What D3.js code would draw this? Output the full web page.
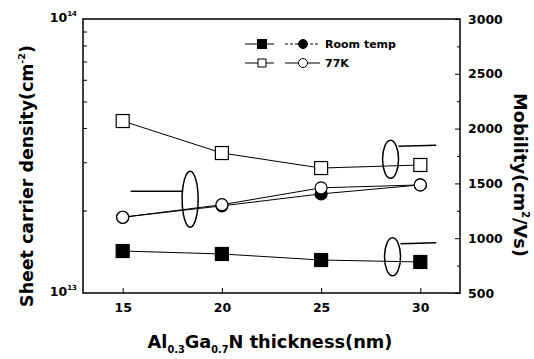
<!DOCTYPE html>
<html><head><meta charset="utf-8">
<script src="https://cdn.jsdelivr.net/npm/d3@7"></script>
<style>body{margin:0;background:#fff}svg{display:block}text{font-family:"DejaVu Sans",Arial,sans-serif;font-weight:bold;fill:#000}</style>
</head><body>
<script>
const thickness = [15, 20, 25, 30];
const mobilityRT = [883, 856, 801, 783];
const mobility77K = [2069, 1777, 1640, 1668];
const densityRT = [1.89e13, 2.08e13, 2.30e13, 2.48e13];
const density77K = [1.89e13, 2.10e13, 2.42e13, 2.48e13];
const xTicks = [15, 20, 25, 30];
const mobilityTicks = [500, 1000, 1500, 2000, 2500, 3000];
const legendLabels = ["Room temp", "77K"];

const W = 534, H = 359;
const m = {l: 83, r: 74, t: 19, b: 66};
const FF = "'DejaVu Sans', Arial, sans-serif";
const svg = d3.select("body").append("svg").attr("width", W).attr("height", H);
const x = d3.scaleLinear().domain([13, 32]).range([m.l, W - m.r]);
const yL = d3.scaleLog().domain([1e13, 1e14]).range([H - m.b, m.t]);
const yR = d3.scaleLinear().domain([500, 3000]).range([H - m.b, m.t]);

// frame
svg.append("rect").attr("x", m.l).attr("y", m.t).attr("width", W - m.r - m.l).attr("height", H - m.b - m.t)
  .attr("fill", "none").attr("stroke", "#000").attr("stroke-width", 1.5);

// bottom axis
const gx = svg.append("g").attr("transform", `translate(0,${H - m.b})`)
  .call(d3.axisBottom(x).tickValues(xTicks).tickSize(-5).tickPadding(10).tickFormat(d3.format("d")));
gx.select(".domain").remove();
gx.selectAll("text").attr("font-size", 12.5).style("font-family", FF).style("font-weight", "bold");

// left axis: minor ticks inward
const minor = [];
for (let k = 2; k <= 9; k++) minor.push(k * 1e13);
const gl = svg.append("g").attr("transform", `translate(${m.l},0)`)
  .call(d3.axisLeft(yL).tickValues(minor).tickSize(-4).tickFormat(""));
gl.select(".domain").remove();
const leftLabels = [[1e14, "14"], [1e13, "13"]];
leftLabels.forEach(([v, e]) => {
  const t = svg.append("text").attr("x", m.l - 6).attr("y", yL(v) + 3).attr("text-anchor", "end").attr("font-size", 12.5);
  t.append("tspan").text("10");
  t.append("tspan").attr("font-size", 7).attr("dy", -6).text(e);
});

// right axis
const gr = svg.append("g").attr("transform", `translate(${W - m.r},0)`)
  .call(d3.axisRight(yR).tickValues(mobilityTicks).tickSize(-5).tickPadding(8).tickFormat(d3.format("d")));
gr.select(".domain").remove();
gr.selectAll("text").attr("font-size", 12.5).style("font-family", FF).style("font-weight", "bold");
svg.append("g").attr("transform", `translate(${W - m.r},0)`)
  .call(d3.axisRight(yR).tickValues([750, 1250, 1750, 2250, 2750]).tickSize(-3).tickFormat(""))
  .select(".domain").remove();

// lines
const lineR = d3.line().x((d, i) => x(thickness[i])).y(d => yR(d));
const lineL = d3.line().x((d, i) => x(thickness[i])).y(d => yL(d));
[lineR(mobility77K), lineR(mobilityRT), lineL(densityRT), lineL(density77K)].forEach(p =>
  svg.append("path").attr("d", p).attr("fill", "none").attr("stroke", "#000").attr("stroke-width", 1));

const sq = 13, cr = 6;
function square(g, cx, cy, filled) {
  g.append("rect").attr("x", cx - sq / 2).attr("y", cy - sq / 2).attr("width", sq).attr("height", sq)
    .attr("fill", filled ? "#000" : "#fff").attr("stroke", "#000").attr("stroke-width", 1.2);
}
function circle(g, cx, cy, filled) {
  g.append("circle").attr("cx", cx).attr("cy", cy).attr("r", cr)
    .attr("fill", filled ? "#000" : "#fff").attr("stroke", "#000").attr("stroke-width", 1.2);
}
const pts = svg.append("g");
densityRT.forEach((d, i) => circle(pts, x(thickness[i]), yL(d), true));
density77K.forEach((d, i) => circle(pts, x(thickness[i]), yL(d), false));
mobilityRT.forEach((d, i) => square(pts, x(thickness[i]), yR(d), true));
mobility77K.forEach((d, i) => square(pts, x(thickness[i]), yR(d), false));

// ellipses with pointers
const ann = svg.append("g").attr("fill", "none").attr("stroke", "#000").attr("stroke-width", 1.5);
ann.append("ellipse").attr("cx", x(18.4)).attr("cy", yL(2.2e13)).attr("rx", 8).attr("ry", 28);
ann.append("line").attr("x1", x(18.4) - 8).attr("y1", yL(2.2e13) - 8).attr("x2", x(15.4)).attr("y2", yL(2.2e13) - 8);
ann.append("ellipse").attr("cx", x(28.5)).attr("cy", yR(1720)).attr("rx", 8).attr("ry", 19);
ann.append("line").attr("x1", x(28.9)).attr("y1", yR(1720) - 13).attr("x2", x(30.8)).attr("y2", yR(1720) - 14);
ann.append("ellipse").attr("cx", x(28.6)).attr("cy", yR(830)).attr("rx", 8).attr("ry", 19);
ann.append("line").attr("x1", x(29.0)).attr("y1", yR(830) - 13).attr("x2", x(30.8)).attr("y2", yR(830) - 14);

// legend
const lg = svg.append("g");
legendLabels.forEach((lab, i) => {
  const y0 = 44 + i * 19;
  const filled = i === 0;
  lg.append("line").attr("x1", 245).attr("x2", 274).attr("y1", y0).attr("y2", y0).attr("stroke", "#000").attr("stroke-width", 1);
  lg.append("rect").attr("x", 262 - (filled ? 4.5 : 4)).attr("y", y0 - (filled ? 4.5 : 4)).attr("width", filled ? 9 : 8).attr("height", filled ? 9 : 8)
    .attr("fill", filled ? "#000" : "#fff").attr("stroke", "#000").attr("stroke-width", 1);
  lg.append("line").attr("x1", 285).attr("x2", 320).attr("y1", y0).attr("y2", y0).attr("stroke", "#000").attr("stroke-width", 1)
    .attr("stroke-dasharray", filled ? "3,2" : null);
  lg.append("circle").attr("cx", 303).attr("cy", y0).attr("r", 4.5).attr("fill", filled ? "#000" : "#fff").attr("stroke", "#000").attr("stroke-width", 1);
  lg.append("text").attr("x", 325).attr("y", y0 + 4).attr("font-size", 11).text(lab);
});

// axis titles, fitted to the reference extents
function fit(t, target) {
  const w = t.node().getComputedTextLength();
  const fs = +t.attr("font-size");
  t.attr("font-size", fs * target / w);
}
const lt = svg.append("text").attr("transform", `translate(33,176) rotate(-90)`).attr("text-anchor", "middle").attr("font-size", 16);
lt.append("tspan").text("Sheet carrier density(cm");
lt.append("tspan").style("font-size", "0.55em").attr("dy", "-0.8em").text("-2");
lt.append("tspan").attr("dy", "0.44em").text(")");
fit(lt, 262);

const rt = svg.append("text").attr("transform", `translate(514,175) rotate(90)`).attr("text-anchor", "middle").attr("font-size", 16);
rt.append("tspan").text("Mobility(cm");
rt.append("tspan").style("font-size", "0.55em").attr("dy", "-0.8em").text("2");
rt.append("tspan").attr("dy", "0.44em").text("/Vs)");
fit(rt, 164);

const bt = svg.append("text").attr("x", 270).attr("y", 348).attr("text-anchor", "middle").attr("font-size", 16);
bt.append("tspan").text("Al");
bt.append("tspan").style("font-size", "0.55em").attr("dy", "0.55em").text("0.3");
bt.append("tspan").attr("dy", "-0.3em").text("Ga");
bt.append("tspan").style("font-size", "0.55em").attr("dy", "0.55em").text("0.7");
bt.append("tspan").attr("dy", "-0.3em").text("N thickness(nm)");
fit(bt, 245);
</script>
</body></html>
